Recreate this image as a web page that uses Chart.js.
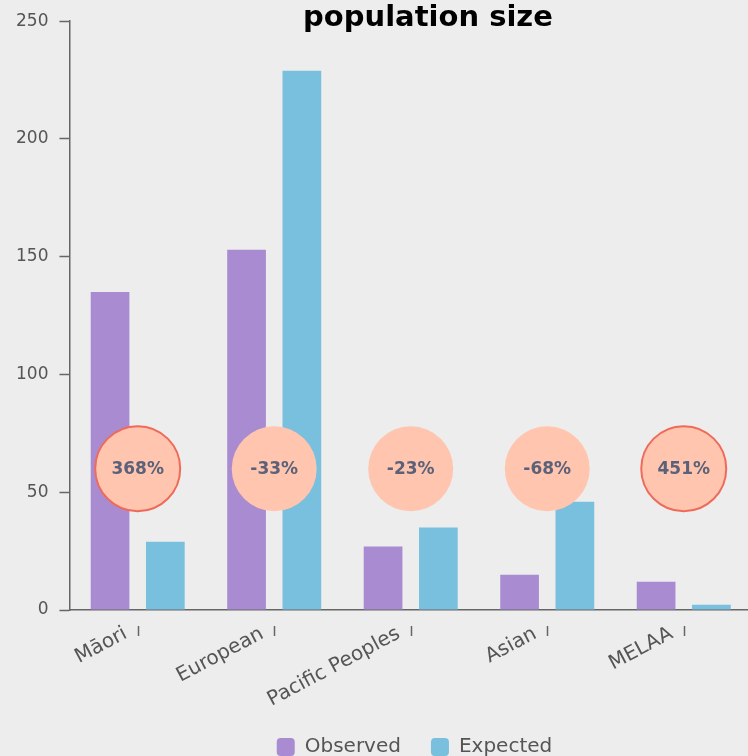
<!DOCTYPE html>
<html>
<head>
<meta charset="utf-8">
<script src="https://cdn.jsdelivr.net/npm/chart.js@4.4.1/dist/chart.umd.min.js"></script>
<style>
  html, body { margin: 0; padding: 0; background: #ecedec; overflow: hidden; }
  #wrap { position: absolute; left: 0; top: 0; width: 846px; height: 767px; }
</style>
</head>
<body>
<div id="wrap"><canvas id="bar_chart"></canvas></div>
<script>
const categories = ['Māori', 'European', 'Pacific Peoples', 'Asian', 'MELAA'];
const observed = [135, 153, 27, 15, 12];
const expected = [29, 229, 35, 46, 2.2];
const changes = [368, -33, -23, -68, 451];   // % difference shown in the circles
const circleLevel = [60, 60, 60, 60, 60];
const yTicks = [0, 50, 100, 150, 200, 250];

const axisColor = '#666666';
const textColor = '#555555';

// title sits over the top of the axis, so draw it by hand
const titlePlugin = {
    id: 'topTitle',
    afterLayout(chart) {
        // legend is a bit right of the plot centre in the original
        chart.legend.left += 36;
        chart.legend.right += 36;
    },
    afterDraw(chart) {
        const c = chart.ctx;
        c.save();
        c.font = "bold 29px 'DejaVu Sans', sans-serif";
        c.fillStyle = '#000000';
        c.textAlign = 'center';
        c.textBaseline = 'middle';
        c.fillText('population size', 428, 18);
        c.restore();
    }
};

// small category marks below the x axis + text inside the circles
const marksPlugin = {
    id: 'marks',
    afterDatasetsDraw(chart) {
        const c = chart.ctx;
        const x = chart.scales.x;
        c.save();
        c.strokeStyle = axisColor;
        c.lineWidth = 1.5;
        x.ticks.forEach((t, i) => {
            const px = Math.round(x.getPixelForTick(i)) + 0.5;
            c.beginPath();
            c.moveTo(px, x.top + 16);
            c.lineTo(px, x.top + 26);
            c.stroke();
        });
        const meta = chart.getDatasetMeta(2);
        c.font = "bold 17px 'DejaVu Sans', sans-serif";
        c.fillStyle = '#5b6178';
        c.textAlign = 'center';
        c.textBaseline = 'middle';
        meta.data.forEach((pt, i) => {
            c.fillText(changes[i] + '%', pt.x, pt.y + 1);
        });
        c.restore();
    }
};

const ctx = document.getElementById('bar_chart').getContext('2d');

const bar_chart = new Chart(ctx, {
    type: 'bar',
    data: {
        labels: categories,
        datasets: [
            {
                label: 'Observed',
                data: observed,
                backgroundColor: '#a98bd1',
                categoryPercentage: 0.81,
                barPercentage: 0.70,
                order: 1,
            },
            {
                label: 'Expected',
                data: expected,
                backgroundColor: '#79bfde',
                categoryPercentage: 0.81,
                barPercentage: 0.70,
                order: 1,
            },
            {
                type: 'line',
                label: 'change',
                data: circleLevel,
                showLine: false,
                pointRadius: 42.5,
                pointHoverRadius: 42.5,
                pointBackgroundColor: '#ffc5ae',
                pointBorderColor: changes.map(v => v > 0 ? '#f06a5a' : 'rgba(0,0,0,0)'),
                pointBorderWidth: 2,
                pointHoverBorderWidth: 2,
                order: 0,
            }
        ]
    },
    options: {
        responsive: true,
        maintainAspectRatio: false,
        animation: false,
        layout: {
            autoPadding: false,
            padding: { left: 5, right: 94, top: 14, bottom: 0 }
        },
        scales: {
            x: {
                afterFit: (scale) => { scale.height = 97; },
                grid: { drawOnChartArea: false, drawTicks: false },
                border: { display: true, color: axisColor, width: 1.5 },
                ticks: {
                    color: textColor,
                    font: { family: "'DejaVu Sans', sans-serif", size: 20 },
                    maxRotation: 28,
                    minRotation: 28,
                    labelOffset: -12,
                    padding: 12,
                }
            },
            y: {
                min: 0,
                max: 250,
                afterBuildTicks: (scale) => { scale.ticks = yTicks.map(v => ({ value: v })); },
                grid: { drawOnChartArea: false, drawTicks: true, tickLength: 10, tickColor: axisColor, tickWidth: 1.5 },
                border: { display: true, color: axisColor, width: 1.5 },
                ticks: {
                    color: textColor,
                    font: { family: "'DejaVu Sans', sans-serif", size: 17 },
                    padding: 11,
                }
            }
        },
        plugins: {
            legend: {
                position: 'bottom',
                labels: {
                    filter: (item) => item.datasetIndex < 2,
                    color: textColor,
                    font: { family: "'DejaVu Sans', sans-serif", size: 20 },
                    boxWidth: 18,
                    boxHeight: 18,
                    useBorderRadius: true,
                    borderRadius: 4,
                    padding: 30,
                }
            },
            title: { display: false },
            tooltip: { enabled: false }
        }
    },
    plugins: [titlePlugin, marksPlugin]
});
</script>
</body>
</html>
